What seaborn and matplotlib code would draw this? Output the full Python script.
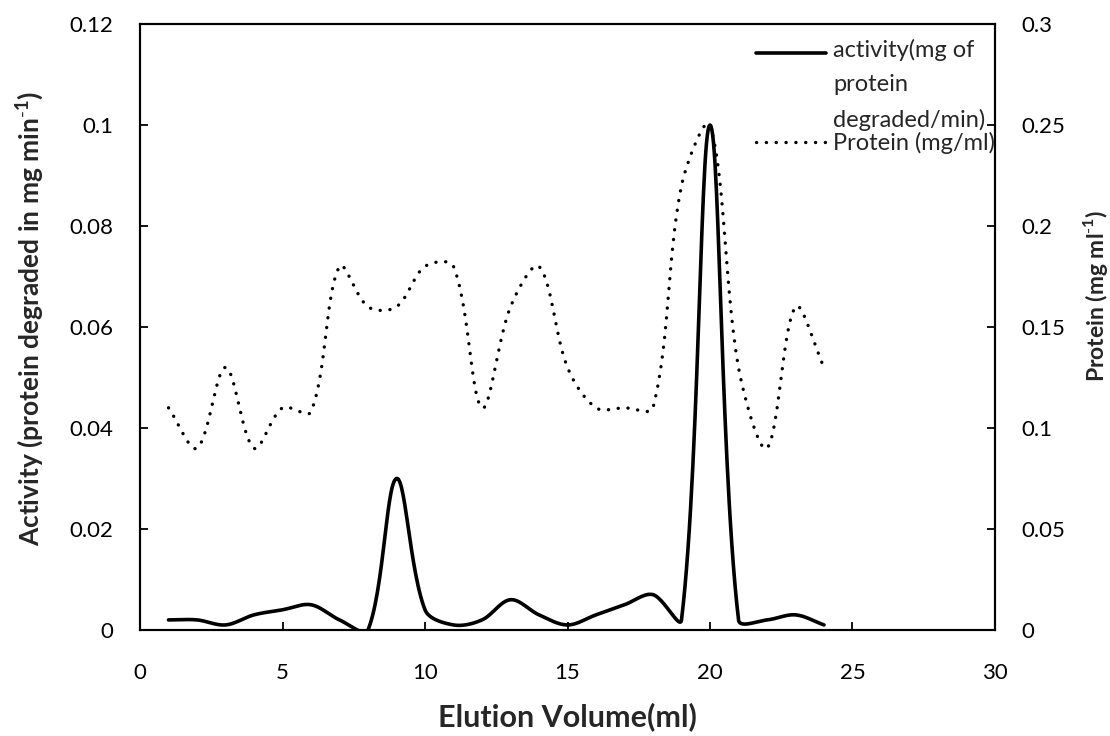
import numpy as np
import pandas as pd
import matplotlib
matplotlib.use("Agg")
import matplotlib.pyplot as plt
from matplotlib.ticker import FuncFormatter, MultipleLocator
from matplotlib.legend_handler import HandlerLine2D
import seaborn as sns

# ---------------- data ----------------
volume = [1, 2, 3, 4, 5, 6, 7, 8, 9, 10, 11, 12, 13, 14, 15, 16, 17, 18, 19, 20, 21, 22, 23, 24]
activity = [0.002, 0.002, 0.001, 0.003, 0.004, 0.005, 0.002, 0.0, 0.03, 0.004, 0.001, 0.002,
            0.006, 0.003, 0.001, 0.003, 0.005, 0.007, 0.002, 0.1, 0.002, 0.002, 0.003, 0.001]
protein = [0.11, 0.09, 0.13, 0.09, 0.11, 0.108, 0.18, 0.16, 0.16, 0.18, 0.18, 0.11,
           0.16, 0.18, 0.13, 0.11, 0.11, 0.11, 0.22, 0.25, 0.13, 0.09, 0.16, 0.13]
activity_label = "activity(mg of\nprotein\ndegraded/min)"
protein_label = "Protein (mg/ml)"
x_label = "Elution Volume(ml)"
y_left_label = r"Activity (protein degraded in mg min$^{\mathbf{\text{-}1}}$)"
y_right_label = r"Protein (mg ml$^{\mathbf{\text{-}1}}$)"
x_lim = (0, 30)
y_left_lim = (0, 0.12)
y_right_lim = (0, 0.3)


def smooth(xs, ys, sx, sy, n=30):
    """Excel-like smoothed line: Bezier segments through the data points,
    control arms weighted by the on-screen chord lengths."""
    p = np.column_stack([xs, ys]).astype(float)
    scr = p * np.array([sx, sy])
    out = [p[0]]
    m = len(p)
    for i in range(m - 1):
        i0, i3 = max(i - 1, 0), min(i + 2, m - 1)
        d01 = np.linalg.norm(scr[i] - scr[i0])
        d12 = np.linalg.norm(scr[i + 1] - scr[i])
        d23 = np.linalg.norm(scr[i3] - scr[i + 1])
        f1 = d12 / (d01 + d12) if d01 + d12 > 0 else 0.5
        f2 = d12 / (d12 + d23) if d12 + d23 > 0 else 0.5
        c1 = p[i] + (p[i + 1] - p[i0]) * f1 / 3.0
        c2 = p[i + 1] - (p[i3] - p[i]) * f2 / 3.0
        t = np.linspace(0, 1, n)[1:, None]
        seg = ((1 - t) ** 3) * p[i] + 3 * ((1 - t) ** 2) * t * c1 + 3 * (1 - t) * t ** 2 * c2 + t ** 3 * p[i + 1]
        out.extend(seg)
    out = np.array(out)
    return out[:, 0], out[:, 1]


class ShiftedLineHandler(HandlerLine2D):
    """Legend line placed level with the first line of a multi-line label."""
    def __init__(self, dy, **kw):
        super().__init__(**kw)
        self.dy = dy

    def create_artists(self, legend, orig_handle, xdescent, ydescent, width, height, fontsize, trans):
        return super().create_artists(legend, orig_handle, xdescent, ydescent - 2 * self.dy,
                                      width, height, fontsize, trans)


sns.set_theme(style="white")
plt.rcParams["font.family"] = ["Lato", "DejaVu Sans"]
plt.rcParams["mathtext.fontset"] = "custom"
plt.rcParams["mathtext.rm"] = "Lato"
plt.rcParams["mathtext.bf"] = "Lato:bold"

fig = plt.figure(figsize=(11.1, 7.36), dpi=100)
ax = fig.add_axes([140 / 1110, 1 - 630 / 736, (995 - 140) / 1110, (630 - 24) / 736])
ax2 = ax.twinx()
ax.set_xlim(*x_lim)
ax.set_ylim(*y_left_lim)
ax2.set_ylim(*y_right_lim)

bb = ax.get_window_extent()
sx = bb.width / (x_lim[1] - x_lim[0])
sy_l = bb.height / (y_left_lim[1] - y_left_lim[0])
sy_r = bb.height / (y_right_lim[1] - y_right_lim[0])

a_x, a_y = smooth(volume, activity, sx, sy_l)
p_x, p_y = smooth(volume, protein, sx, sy_r)
df_a = pd.DataFrame({"volume": a_x, "value": a_y})
df_p = pd.DataFrame({"volume": p_x, "value": p_y})

sns.lineplot(data=df_a, x="volume", y="value", ax=ax, color="black", lw=2.6,
             estimator=None, sort=False, legend=False)
sns.lineplot(data=df_p, x="volume", y="value", ax=ax2, color="black", lw=2.4,
             estimator=None, sort=False, legend=False,
             linestyle=(0, (0.05, 2.9)))
for ln in ax2.get_lines():
    ln.set_dash_capstyle("round")
ax.set_xlim(*x_lim)
ax.set_ylim(*y_left_lim)
ax2.set_ylim(*y_right_lim)

ax.xaxis.set_major_locator(MultipleLocator(5))
ax.yaxis.set_major_locator(MultipleLocator(0.02))
ax2.yaxis.set_major_locator(MultipleLocator(0.05))
fmt = FuncFormatter(lambda v, p: "%g" % round(v, 4))
ax.yaxis.set_major_formatter(fmt)
ax2.yaxis.set_major_formatter(fmt)

tick_fs = 16
ax.tick_params(axis="x", direction="in", length=6, width=1.3, colors="black", pad=24,
               labelsize=tick_fs, bottom=True, top=False)
ax.tick_params(axis="y", direction="in", length=6, width=1.3, colors="black", pad=19,
               labelsize=tick_fs, left=True, right=False)
ax2.tick_params(axis="y", direction="in", length=6, width=1.3, colors="black", pad=19,
                labelsize=tick_fs, right=True, left=False)

for a in (ax, ax2):
    for s in a.spines.values():
        s.set_color("black")
        s.set_linewidth(1.5)
        s.set_visible(True)

ax.set_xlabel(x_label, fontsize=22, fontweight="bold")
ax.set_ylabel(y_left_label, fontsize=19, fontweight="bold")
ax2.set_ylabel(y_right_label, fontsize=16.5, fontweight="bold")
ax.xaxis.set_label_coords(0.5, (630 - 717) / 606)
ax.xaxis.label.set_va("center")
ax.yaxis.set_label_coords((30 - 140) / 855, (630 - 318) / 606)
ax.yaxis.label.set_va("center")
ax2.yaxis.set_label_coords((1096 - 140) / 855, (630 - 296) / 606)
ax2.yaxis.label.set_va("center")
ax2.yaxis.label.set_rotation(90)

act_line = ax.get_lines()[0]
pro_line = ax2.get_lines()[0]
leg = ax2.legend([act_line, pro_line], [activity_label, protein_label],
                 loc="upper right", bbox_to_anchor=(1.0, 0.975),
                 frameon=False, fontsize=17, borderaxespad=0, borderpad=0,
                 handlelength=2.95, handletextpad=0.3, labelspacing=0.05,
                 handler_map={act_line: ShiftedLineHandler(23.4)})
for t in leg.get_texts():
    t.set_linespacing(1.75)

fig.savefig("out.png", dpi=100, facecolor="white")
